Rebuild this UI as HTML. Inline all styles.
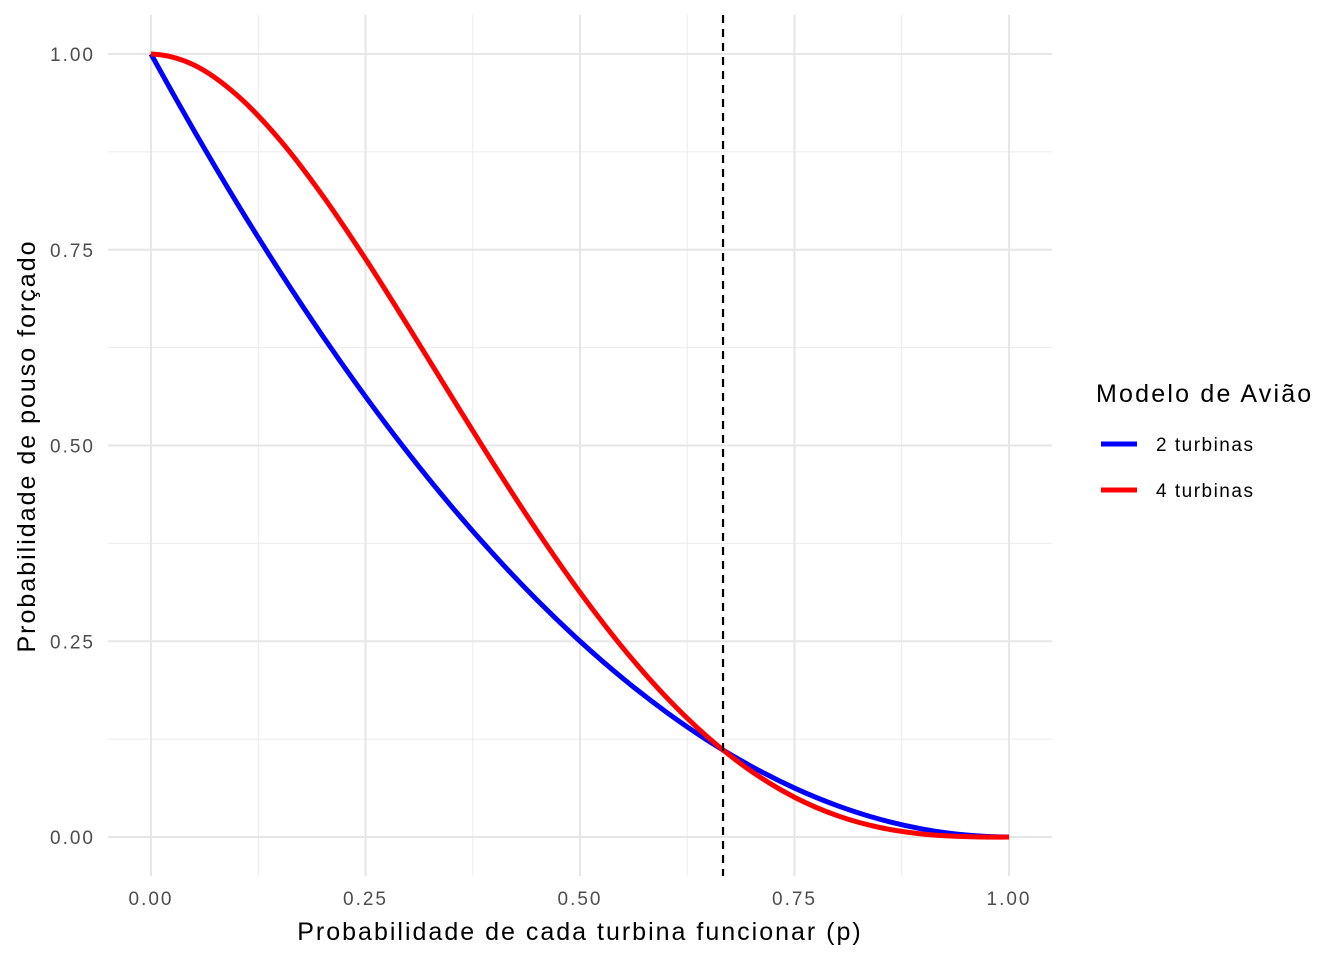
<!DOCTYPE html>
<html><head><meta charset="utf-8">
<style>
body{margin:0;background:#fff;}
svg text{font-family:"Liberation Sans",Arial,sans-serif;}
</style></head>
<body>
<svg id="chart" width="1344" height="960" xmlns="http://www.w3.org/2000/svg">
<g id="grid"></g>
<g id="marks"></g>
<g id="axes"></g>
<text x="580" y="940" font-size="25" letter-spacing="2" text-anchor="middle" fill="#000">Probabilidade de cada turbina funcionar (p)</text>
<text transform="translate(35,446) rotate(-90)" font-size="25" letter-spacing="2" text-anchor="middle" fill="#000">Probabilidade de pouso forçado</text>
<g>
<text x="1096" y="402" font-size="25" letter-spacing="2.2" fill="#000">Modelo de Avião</text>
<g>
<line x1="1101" y1="444" x2="1137" y2="444" stroke="#0000ff" stroke-width="5"/>
<text x="1156" y="451" font-size="19" letter-spacing="1.5" fill="#000">2 turbinas</text></g>
<g>
<line x1="1101" y1="490" x2="1137" y2="490" stroke="#ff0000" stroke-width="5"/>
<text x="1156" y="497" font-size="19" letter-spacing="1.5" fill="#000">4 turbinas</text></g>
</g>
</svg>
<script>
const pValues=[0,0.05,0.1,0.15,0.2,0.25,0.3,0.35,0.4,0.45,0.5,0.55,0.6,0.65,0.7,0.75,0.8,0.85,0.9,0.95,1];
const series2=[1,0.9025,0.81,0.7225,0.64,0.5625,0.49,0.4225,0.36,0.3025,0.25,0.2025,0.16,0.1225,0.09,0.0625,0.04,0.0225,0.01,0.0025,0];
const series4=[1,0.98598,0.9477,0.89048,0.8192,0.73828,0.6517,0.56298,0.4752,0.39098,0.3125,0.24148,0.1792,0.12648,0.0837,0.05078,0.0272,0.01198,0.0037,0.00048,0];
const xTicks=[0,0.25,0.5,0.75,1];
const xTickLabels=["0.00","0.25","0.50","0.75","1.00"];
const yTicks=[0,0.25,0.5,0.75,1];
const yTickLabels=["0.00","0.25","0.50","0.75","1.00"];
const crossingP=[0.6667];

const NS="http://www.w3.org/2000/svg";
const xS=v=>151+v*858;
const yS=v=>837-v*783;
function mk(tag,attrs,parent){const e=document.createElementNS(NS,tag);for(const k in attrs)e.setAttribute(k,attrs[k]);parent.appendChild(e);return e;}
const grid=document.getElementById('grid'),marks=document.getElementById('marks'),axes=document.getElementById('axes');
for(let i=0;i<xTicks.length-1;i++){const v=(xTicks[i]+xTicks[i+1])/2;
 const l=mk('line',{x1:xS(v),x2:xS(v),y1:15,y2:876,stroke:'#ebebeb','stroke-width':1},grid);
 
 }
for(let i=0;i<yTicks.length-1;i++){const v=(yTicks[i]+yTicks[i+1])/2;
 const l=mk('line',{x1:108,x2:1052,y1:yS(v),y2:yS(v),stroke:'#ebebeb','stroke-width':1},grid);
 
 }
xTicks.forEach((v,i)=>{
 const l=mk('line',{x1:xS(v),x2:xS(v),y1:15,y2:876,stroke:'#e6e6e6','stroke-width':2},grid);
 
 
 const t=mk('text',{x:xS(v),y:905,'font-size':19,'letter-spacing':2,'text-anchor':'middle',fill:'#4d4d4d'},axes);
 t.textContent=xTickLabels[i];
 
 
});
yTicks.forEach((v,i)=>{
 const l=mk('line',{x1:108,x2:1052,y1:yS(v),y2:yS(v),stroke:'#e6e6e6','stroke-width':2},grid);
 
 
 const t=mk('text',{x:95,y:yS(v)+7,'font-size':19,'letter-spacing':2,'text-anchor':'end',fill:'#4d4d4d'},axes);
 t.textContent=yTickLabels[i];
 
 
});
function smooth(xs,ys){
 const n=xs.length;
 const m=xs.map((x,i)=>{
  if(i===0) return (-3*ys[0]+4*ys[1]-ys[2])/(xs[2]-xs[0]);
  if(i===n-1) return (3*ys[n-1]-4*ys[n-2]+ys[n-3])/(xs[n-1]-xs[n-3]);
  return (ys[i+1]-ys[i-1])/(xs[i+1]-xs[i-1]);
 });
 let d='M'+xS(xs[0])+','+yS(ys[0]);
 for(let i=0;i<n-1;i++){
  const h=xs[i+1]-xs[i];
  const c1x=xs[i]+h/3,c1y=ys[i]+m[i]*h/3;
  const c2x=xs[i+1]-h/3,c2y=ys[i+1]-m[i+1]*h/3;
  d+=' C'+xS(c1x)+','+yS(c1y)+' '+xS(c2x)+','+yS(c2y)+' '+xS(xs[i+1])+','+yS(ys[i+1]);
 }
 return d;
}
const l2=mk('path',{d:smooth(pValues,series2),fill:'none',stroke:'#0000ff','stroke-width':5},marks);


const l4=mk('path',{d:smooth(pValues,series4),fill:'none',stroke:'#ff0000','stroke-width':5},marks);


crossingP.forEach(v=>{
 const d=mk('line',{x1:xS(v),x2:xS(v),y1:15,y2:876,stroke:'#000','stroke-width':2.2,'stroke-dasharray':'8,6'},marks);
 
 
});
</script>
</body></html>
